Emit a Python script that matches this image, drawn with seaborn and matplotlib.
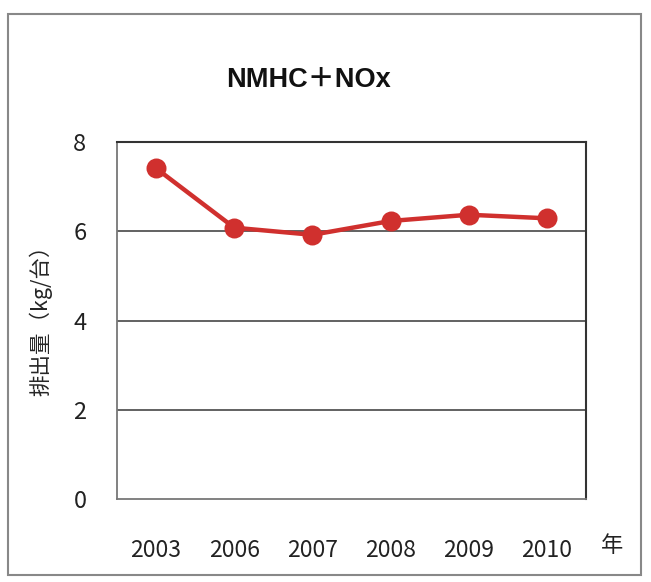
import matplotlib
matplotlib.use("Agg")
import matplotlib.pyplot as plt
import seaborn as sns
import pandas as pd
from matplotlib.patches import Rectangle

years = ["2003", "2006", "2007", "2008", "2009", "2010"]
emissions = [7.41, 6.08, 5.92, 6.23, 6.37, 6.29]
yticks = [0, 2, 4, 6, 8]

sns.set_theme(style="white")
plt.rcParams['font.family'] = ['Noto Sans CJK JP', 'DejaVu Sans']

df = pd.DataFrame({"year": years, "value": emissions})

fig = plt.figure(figsize=(6.51, 5.82), dpi=100)
ax = fig.add_axes([117/651, 83/582, (586-117)/651, (499-142)/582])

sns.pointplot(data=df, x="year", y="value", ax=ax, color="#d0302e",
              markers="o", markersize=12, linewidth=3.2)

ax.set_xlim(-0.5, len(years) - 0.5)
ax.set_ylim(0, 8)
ax.set_yticks(yticks)
ax.set_yticklabels([str(v) for v in yticks])
for y in yticks[1:-1]:
    ax.axhline(y, color="#555555", lw=1.3, zorder=0)

ax.set_xlabel("")
ax.set_ylabel("排出量（kg/台）", fontsize=15.5)
ax.yaxis.set_label_coords(-0.138, 0.515)
ax.tick_params(axis="y", length=0, labelsize=17, pad=22, colors="#222222")
ax.tick_params(axis="x", length=0, labelsize=16.5, pad=29, colors="#222222")
ax.set_xticks(range(len(years)), minor=False)
ax.set_xticks([i + 0.5 for i in range(len(years) - 1)], minor=True)
ax.tick_params(axis="x", which="minor", direction="in", length=6, width=1.2, color="#555555")

for side in ["top", "right"]:
    ax.spines[side].set_color("#333333")
    ax.spines[side].set_linewidth(1.5)
for side in ["left", "bottom"]:
    ax.spines[side].set_color("#777777")
    ax.spines[side].set_linewidth(1.3)

fig.text(309/651, 1 - 80/582, "NMHC＋NOx", ha="center", va="center",
         fontsize=19.5, fontweight="bold", color="#111111",
         family=['Liberation Sans', 'Noto Sans CJK JP'])
fig.text(612/651, 1 - 545/582, "年", ha="center", va="center",
         fontsize=16, color="#222222")

fig.patches.append(Rectangle((8/651, 7/582), (641-8)/651, (568-7)/582,
                             transform=fig.transFigure, fill=False,
                             edgecolor="#888888", lw=1.5))

fig.savefig("out.png", dpi=100)
